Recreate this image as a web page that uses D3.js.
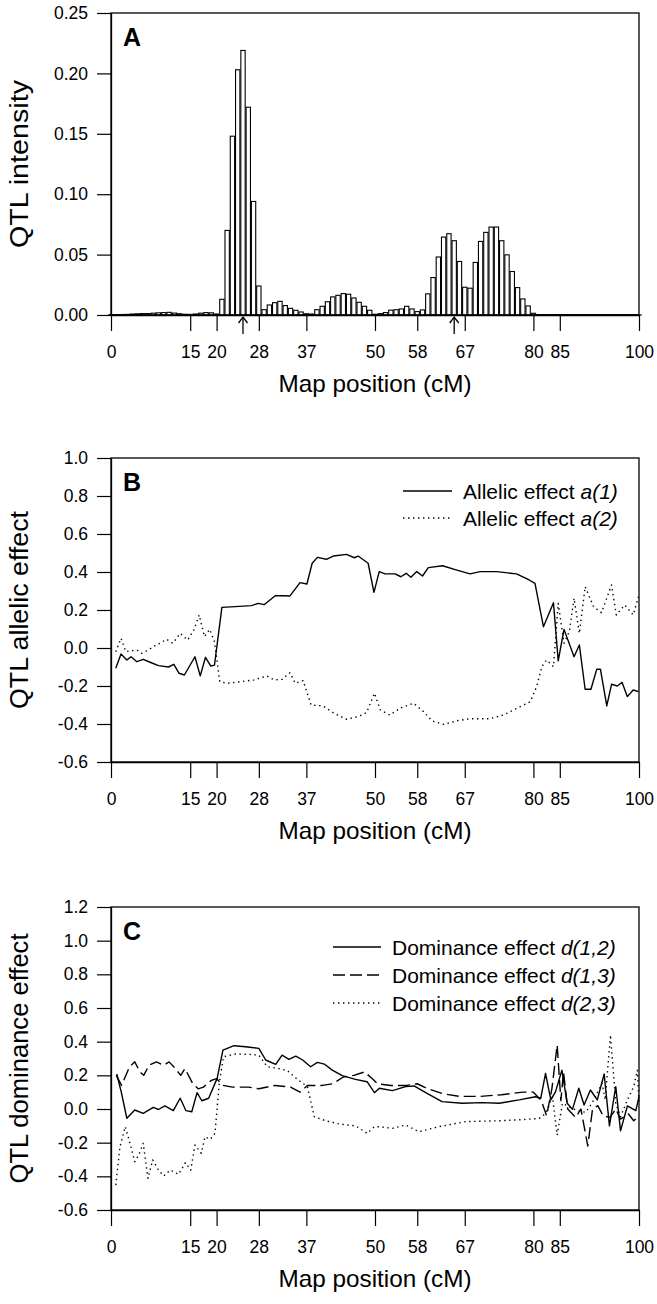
<!DOCTYPE html>
<html>
<head>
<meta charset="utf-8">
<script src="https://cdn.jsdelivr.net/npm/d3@7"></script>
<style>
  body { margin: 0; background: #fff; }
  svg { display: block; font-family: "Liberation Sans", Arial, sans-serif; }
</style>
</head>
<body>
<div id="chart"></div>
<script>
// Map positions (cM) used as ticks on every panel
const mapTicks = [0, 15, 20, 28, 37, 50, 58, 67, 80, 85, 100];

// Panel A: QTL intensity per 1 cM bin (position 0..100)
const intensityBins = [
  0.0003, 0.0003, 0.0004, 0.0005, 0.0008, 0.0010, 0.0012, 0.0012, 0.0015, 0.0018,
  0.0020, 0.0022, 0.0016, 0.0010, 0.0006, 0.0005, 0.0008, 0.0015, 0.0020, 0.0018,
  0.0008, 0.013, 0.070, 0.148, 0.203, 0.219, 0.172, 0.094, 0.024, 0.0044,
  0.0083, 0.0102, 0.0113, 0.0078, 0.0055, 0.0039, 0.0025, 0.0010, 0.0008, 0.0044,
  0.0072, 0.0110, 0.0150, 0.0163, 0.0177, 0.0172, 0.0141, 0.0105, 0.0072, 0.0039,
  0.0006, 0.0011, 0.0020, 0.0040, 0.0044, 0.0050, 0.0072, 0.0050, 0.0028, 0.0042,
  0.0175, 0.0310, 0.0480, 0.0645, 0.0673, 0.0615, 0.0443, 0.0230, 0.0222, 0.0435,
  0.0609, 0.0684, 0.0728, 0.0728, 0.0615, 0.0498, 0.0360, 0.0227, 0.0133, 0.0075,
  0.0014, 0.0003, 0.0003, 0.0002, 0.0002, 0.0002, 0.0002, 0.0002, 0.0001, 0.0001,
  0.0001, 0.0001, 0.0001, 0.0001, 0.0001, 0.0001, 0.0001, 0.0001, 0.0001, 0.0001,
  0.0001
];
const intensityTicks = [0, 0.05, 0.10, 0.15, 0.20, 0.25];
const arrowPositions = [25, 65];

// Panel B: allelic effects [position, effect]
const allelicA1 = [
  [0.9,-0.107],[1.9,-0.032],[3.0,-0.063],[3.8,-0.046],[4.9,-0.072],[6.1,-0.06],[7.4,-0.075],
  [9.0,-0.093],[10.9,-0.10],[11.9,-0.086],[12.9,-0.133],[13.9,-0.142],[15.9,-0.046],[16.9,-0.147],
  [17.9,-0.049],[18.9,-0.095],[19.6,-0.09],[21.0,0.214],[23.5,0.218],[26.6,0.223],[27.9,0.235],
  [29.0,0.228],[31.1,0.275],[32.6,0.275],[33.9,0.274],[35.8,0.344],[37.1,0.337],[38.1,0.446],
  [39.1,0.477],[40.8,0.467],[42.1,0.484],[44.6,0.493],[46.1,0.475],[46.8,0.484],[48.7,0.446],
  [49.8,0.293],[50.8,0.402],[51.9,0.39],[53.8,0.39],[54.9,0.375],[55.9,0.393],[56.8,0.372],
  [57.9,0.402],[59.0,0.379],[60.1,0.423],[62.8,0.433],[65.5,0.41],[68.0,0.39],[69.9,0.402],
  [73.0,0.402],[76.8,0.39],[79.2,0.358],[80.3,0.34],[81.9,0.112],[83.8,0.238],[84.7,-0.068],
  [85.8,0.098],[87.7,-0.046],[88.7,0.016],[89.8,-0.217],[90.9,-0.217],[92.0,-0.111],[92.7,-0.112],
  [93.9,-0.305],[94.8,-0.191],[95.9,-0.2],[96.8,-0.181],[97.8,-0.256],[98.9,-0.221],[99.9,-0.23]
];
const allelicA2 = [
  [0.9,-0.02],[1.9,0.051],[2.8,-0.019],[3.9,-0.014],[4.9,-0.011],[5.8,-0.028],[7.1,-0.011],
  [8.0,0.007],[9.3,0.025],[10.5,0.046],[11.7,0.025],[13.1,0.077],[14.5,0.042],[15.7,0.095],
  [16.7,0.174],[17.7,0.06],[18.7,0.098],[19.6,0.033],[20.6,-0.177],[22.0,-0.186],[24.6,-0.177],
  [27.1,-0.168],[29.5,-0.147],[30.9,-0.168],[32.4,-0.165],[33.9,-0.13],[34.9,-0.186],[36.4,-0.172],
  [37.9,-0.30],[40.1,-0.305],[42.3,-0.344],[44.6,-0.375],[46.8,-0.361],[48.4,-0.34],[49.9,-0.238],
  [51.0,-0.326],[52.8,-0.353],[54.7,-0.318],[57.3,-0.291],[59.2,-0.335],[60.8,-0.384],[63.0,-0.402],
  [65.5,-0.383],[68.0,-0.372],[71.8,-0.372],[74.3,-0.353],[76.8,-0.318],[79.4,-0.283],[80.6,-0.204],
  [81.6,-0.098],[82.5,-0.063],[83.8,-0.098],[84.7,0.235],[85.8,0.025],[86.8,0.086],[87.7,0.262],
  [88.7,0.077],[89.8,0.323],[91.4,0.217],[92.9,0.186],[94.8,0.332],[95.7,0.174],[97.3,0.226],
  [98.9,0.174],[99.9,0.27]
];
const allelicTicks = [-0.6, -0.4, -0.2, 0.0, 0.2, 0.4, 0.6, 0.8, 1.0];

// Panel C: dominance effects [position, effect]
const dominanceD12 = [
  [1.1,0.208],[2.0,0.093],[3.0,-0.055],[4.5,-0.006],[6.1,-0.026],[8.0,0.01],[9.0,-0.003],
  [10.2,0.018],[11.8,-0.01],[13.1,0.064],[14.2,-0.01],[15.3,-0.016],[16.3,0.097],[17.2,0.049],
  [18.5,0.064],[20.1,0.182],[21.2,0.35],[23.3,0.376],[25.5,0.37],[28.0,0.36],[29.3,0.291],
  [31.2,0.265],[32.4,0.32],[33.7,0.295],[35.0,0.314],[36.3,0.291],[37.8,0.251],[39.1,0.277],
  [40.4,0.267],[41.9,0.231],[43.8,0.198],[46.3,0.176],[48.5,0.162],[49.9,0.097],[50.8,0.123],
  [53.3,0.109],[55.8,0.133],[57.4,0.137],[59.6,0.097],[62.7,0.044],[66.5,0.034],[70.3,0.038],
  [73.5,0.034],[77.3,0.054],[80.4,0.073],[81.4,0.064],[82.3,0.212],[83.3,0.054],[84.2,0.103],
  [85.4,0.231],[86.4,0.034],[87.4,-0.002],[88.6,0.123],[89.6,0.024],[90.8,0.113],[92.1,0.054],
  [93.4,0.208],[94.4,-0.1],[95.6,0.133],[96.5,-0.13],[97.8,0.018],[99.4,-0.01],[100,0.073]
];
const dominanceD13 = [
  [1.0,0.2],[2.0,0.14],[3.5,0.25],[4.5,0.28],[5.5,0.22],[6.2,0.2],[7.2,0.26],[8.6,0.28],
  [10.0,0.26],[11.0,0.28],[12.2,0.24],[13.2,0.2],[14.0,0.24],[15.5,0.15],[16.5,0.12],[17.5,0.13],
  [19.0,0.17],[20.0,0.18],[21.2,0.14],[23,0.13],[26,0.13],[28,0.12],[31,0.14],[34,0.13],
  [35.8,0.10],[37.2,0.14],[40,0.14],[42,0.15],[44,0.19],[46,0.20],[48,0.22],[49.5,0.18],
  [50.5,0.15],[53,0.14],[56,0.14],[58,0.15],[60,0.12],[63,0.09],[66,0.075],[70,0.075],
  [74,0.085],[78,0.10],[80,0.10],[81.5,0.05],[82.5,-0.04],[83.5,0.12],[84.5,0.38],[85.2,0.05],
  [85.7,0.22],[86.5,0.0],[88,-0.05],[89,0.0],[90.3,-0.22],[91.2,0.0],[92.2,0.02],[93.2,-0.04],
  [94.5,-0.05],[95.6,0.0],[96.5,-0.06],[98,-0.03],[99,-0.07],[100,-0.04]
];
const dominanceD23 = [
  [0.9,-0.452],[1.7,-0.224],[2.7,-0.105],[3.6,-0.204],[4.5,-0.313],[5.3,-0.27],[6.1,-0.204],
  [7.0,-0.412],[7.9,-0.303],[9.0,-0.363],[10.0,-0.398],[11.2,-0.363],[12.8,-0.388],[14.1,-0.319],
  [15.1,-0.363],[15.9,-0.214],[17.1,-0.263],[17.8,-0.165],[18.8,-0.18],[19.7,-0.145],[20.5,0.152],
  [21.3,0.31],[23.6,0.327],[26.1,0.325],[28.0,0.32],[29.6,0.251],[31.5,0.242],[33.4,0.228],
  [35.3,0.176],[37.2,0.133],[38.5,-0.046],[40.7,-0.07],[43.2,-0.089],[46.4,-0.101],[48.5,-0.145],
  [49.9,-0.105],[50.8,-0.105],[53.3,-0.115],[55.8,-0.095],[58.3,-0.135],[62.1,-0.105],[67.2,-0.075],
  [73.5,-0.07],[77.9,-0.063],[81.1,-0.056],[82.3,-0.027],[83.6,0.073],[84.5,-0.155],[85.5,0.034],
  [86.7,0.014],[88.3,-0.01],[89.9,-0.02],[91.1,0.034],[93.0,0.152],[93.6,0.054],[94.6,0.44],
  [95.6,0.034],[96.5,-0.046],[97.8,0.054],[99.0,0.133],[99.7,0.23],[100,0.034]
];
const dominanceTicks = [-0.6, -0.4, -0.2, 0.0, 0.2, 0.4, 0.6, 0.8, 1.0, 1.2];

// Line styles
const SOLID = null;
const DOTTED = "1.4,3.6";
const DASHED = "12,5";

const W = 657, H = 1304;
const plotLeft = 111, plotRight = 639;

const svg = d3.select("#chart").append("svg")
  .attr("width", W)
  .attr("height", H)
  .attr("viewBox", `0 0 ${W} ${H}`);

svg.append("rect").attr("width", W).attr("height", H).attr("fill", "#fff");

const x = d3.scaleLinear().domain([0, 100]).range([plotLeft, plotRight]);

// Draws frame, axes and titles for one panel, returns the y scale
function drawPanel(top, bottom, yDomain, yTicks, yFormat, yTitle, titleLen, letter) {
  const y = d3.scaleLinear().domain(yDomain).range([bottom, top]);
  const g = svg.append("g");

  // Frame
  g.append("rect")
    .attr("x", plotLeft).attr("y", top)
    .attr("width", plotRight - plotLeft).attr("height", bottom - top)
    .attr("fill", "none").attr("stroke", "#000").attr("stroke-width", 1.3);

  // X axis
  const xAxis = g.append("g")
    .attr("transform", `translate(0,${bottom})`)
    .call(d3.axisBottom(x).tickValues(mapTicks).tickSize(16).tickPadding(15).tickSizeOuter(0));
  // Y axis
  const yAxis = g.append("g")
    .attr("transform", `translate(${plotLeft},0)`)
    .call(d3.axisLeft(y).tickValues(yTicks).tickFormat(yFormat).tickSize(14).tickPadding(9).tickSizeOuter(0));

  [xAxis, yAxis].forEach(a => {
    a.attr("font-family", null).attr("font-size", null);
    a.select(".domain").attr("stroke-width", 1.3);
    a.selectAll(".tick line").attr("stroke-width", 1.2);
    a.selectAll(".tick text").style("font-size", "17.5px").attr("fill", "#000");
  });

  // X title
  g.append("text")
    .attr("x", (plotLeft + plotRight) / 2)
    .attr("y", bottom + 77)
    .attr("text-anchor", "middle")
    .attr("textLength", 193)
    .attr("lengthAdjust", "spacingAndGlyphs")
    .style("font-size", "24px")
    .text("Map position (cM)");

  // Y title
  g.append("text")
    .attr("transform", `translate(28,${(top + bottom) / 2}) rotate(-90)`)
    .attr("text-anchor", "middle")
    .attr("textLength", titleLen)
    .attr("lengthAdjust", "spacingAndGlyphs")
    .style("font-size", "25px")
    .text(yTitle);

  // Panel letter
  g.append("text")
    .attr("x", plotLeft + 12)
    .attr("y", top + 33)
    .style("font-size", "25px")
    .style("font-weight", "bold")
    .text(letter);

  return y;
}

function drawLegend(items, x0, x1, y0, step) {
  items.forEach((item, i) => {
    const yy = y0 + i * step;
    svg.append("line")
      .attr("x1", x0).attr("x2", x1).attr("y1", yy).attr("y2", yy)
      .attr("stroke", "#000").attr("stroke-width", 1.3)
      .attr("stroke-dasharray", item.dash);
    const t = svg.append("text")
      .attr("x", x1 + 11).attr("y", yy + 7.5)
      .style("font-size", "21px");
    t.append("tspan").text(item.label);
    t.append("tspan").style("font-style", "italic").text(item.term);
  });
}

function drawSeries(y, data, dash) {
  const line = d3.line().x(d => x(d[0])).y(d => y(d[1]));
  svg.append("path")
    .datum(data)
    .attr("d", line)
    .attr("fill", "none")
    .attr("stroke", "#000")
    .attr("stroke-width", 1.4)
    .attr("stroke-linejoin", "round")
    .attr("stroke-dasharray", dash);
}

// ---------- Panel A ----------
const yA = drawPanel(13, 315, [0, 0.25], intensityTicks, d => d.toFixed(2), "QTL intensity", 168, "A");
const binWidth = x(0.82) - x(0);
svg.append("g")
  .selectAll("rect")
  .data(intensityBins)
  .join("rect")
  .attr("x", (d, i) => x(i) - binWidth / 2)
  .attr("y", d => yA(d))
  .attr("width", binWidth)
  .attr("height", d => yA(0) - yA(d))
  .attr("fill", "#fff")
  .attr("stroke", "#000")
  .attr("stroke-width", 1.1);
// redraw baseline over bars
svg.append("line")
  .attr("x1", plotLeft).attr("x2", plotRight)
  .attr("y1", yA(0)).attr("y2", yA(0))
  .attr("stroke", "#000").attr("stroke-width", 1.3);

// Arrows under the axis marking QTL positions
arrowPositions.forEach(p => {
  const ax = x(p), ay = yA(0) + 2;
  svg.append("line")
    .attr("x1", ax).attr("x2", ax).attr("y1", ay).attr("y2", ay + 17)
    .attr("stroke", "#000").attr("stroke-width", 1.3);
  svg.append("path")
    .attr("d", `M${ax - 4.5},${ay + 6} L${ax},${ay} L${ax + 4.5},${ay + 6}`)
    .attr("fill", "none").attr("stroke", "#000").attr("stroke-width", 1.3);
});

// ---------- Panel B ----------
const yB = drawPanel(458, 762, [-0.6, 1.0], allelicTicks, d => d.toFixed(1), "QTL allelic effect", 198, "B");
drawSeries(yB, allelicA1, SOLID);
drawSeries(yB, allelicA2, DOTTED);
drawLegend([
  { label: "Allelic effect ", term: "a(1)", dash: SOLID },
  { label: "Allelic effect ", term: "a(2)", dash: DOTTED }
], 403, 452, 491, 27);

// ---------- Panel C ----------
const yC = drawPanel(907, 1210, [-0.6, 1.2], dominanceTicks, d => d.toFixed(1), "QTL dominance effect", 250, "C");
drawSeries(yC, dominanceD12, SOLID);
drawSeries(yC, dominanceD13, DASHED);
drawSeries(yC, dominanceD23, DOTTED);
drawLegend([
  { label: "Dominance effect ", term: "d(1,2)", dash: SOLID },
  { label: "Dominance effect ", term: "d(1,3)", dash: DASHED },
  { label: "Dominance effect ", term: "d(2,3)", dash: DOTTED }
], 333, 381, 947, 28);
</script>
</body>
</html>
